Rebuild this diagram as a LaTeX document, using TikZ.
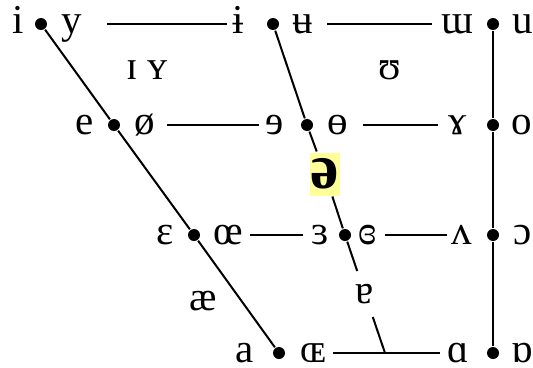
\documentclass[tikz,border=0pt]{standalone}
\usepackage{fontspec}
\setmainfont{Liberation Serif}
\usetikzlibrary{positioning}
\definecolor{hilite}{HTML}{FFFF99}

\begin{document}
\begin{tikzpicture}[x=1pt, y=-1pt, line width=2pt,
  every node/.style={font=\fontsize{41}{48}\selectfont},
  vow/.style={inner sep=0pt, text height=28pt, text depth=9pt},
  low/.style={inner sep=0pt, text height=23pt, text depth=4pt},
  dot/.style={circle, fill, inner sep=0pt, minimum size=12pt},
  gap/.style={vow, minimum width=20pt, minimum height=44pt},
  mid/.style={fill=hilite, inner sep=0pt, minimum width=30pt, minimum height=43pt, font=\fontsize{64}{70}\selectfont\bfseries}]
\useasboundingbox (0,0) rectangle (533,367);
\node[dot] (fr1) at (41,24) {};
\node[dot] (fr2) at (114,125) {};
\node[dot] (fr3) at (194,235) {};
\node[dot] (fr4) at (279,353) {};
\node[dot] (ce1) at (273,24) {};
\node[dot] (ce2) at (307,125) {};
\node[dot] (ce3) at (345,235) {};
\coordinate (ce4) at (385,353);
\node[dot] (bk1) at (493,24) {};
\node[dot] (bk2) at (493,125) {};
\node[dot] (bk3) at (493,235) {};
\node[dot] (bk4) at (493,353) {};
\node[vow] (i) at (18,24) {i};
\node[vow] (y) at (72,24) {y};
\node[vow] (ibar) at (238,24) {ɨ};
\node[vow] (ubar) at (303,24) {ʉ};
\node[vow] (wturn) at (457,24) {ɯ};
\node[vow] (u) at (523,24) {u};
\node[vow] (e) at (85,125) {e};
\node[vow] (oslash) at (145,125) {ø};
\node[vow] (revE) at (275,125) {ɘ};
\node[vow] (obar) at (338,125) {ɵ};
\node[vow] (ramshorn) at (458,125) {ɤ};
\node[vow] (o) at (522,125) {o};
\node[vow] (eps) at (165,235) {ɛ};
\node[vow] (oelig) at (228,235) {œ};
\node[vow] (revEps) at (320,235) {ɜ};
\node[vow] (closedRevEps) at (368,235) {ɞ};
\node[vow] (turnV) at (462,235) {ʌ};
\node[vow] (openO) at (523,235) {ɔ};
\node[low] (a) at (245,353) {a};
\node[low] (smallOE) at (313,353) {ɶ};
\node[low] (alpha) at (458,353) {ɑ};
\node[low] (turnAlpha) at (522,353) {ɒ};
\node[vow] (nearfront) at (147,70) {ɪ ʏ};
\node[vow] (nearback) at (390,70) {ʊ};
\node[vow] (ash) at (203,301) {æ};
\node[gap] (turnA) at (365,294) {ɐ};
\node[mid] (schwa) at (325,174) {ə};
\draw (fr1) -- (fr2) -- (fr3) -- (fr4);
\draw (bk1) -- (bk2) -- (bk3) -- (bk4);
\draw (ce1) -- (ce2) -- (schwa) -- (ce3) -- (turnA) -- (ce4);
\draw[shorten <=35pt, shorten >=11pt] (y.center) -- (ibar.center);
\draw[shorten <=24pt, shorten >=25pt] (ubar.center) -- (wturn.center);
\draw[shorten <=22pt, shorten >=16pt] (oslash.center) -- (revE.center);
\draw[shorten <=25pt, shorten >=20pt] (obar.center) -- (ramshorn.center);
\draw[shorten <=22pt, shorten >=17pt] (oelig.center) -- (revEps.center);
\draw[shorten <=17pt, shorten >=15pt] (closedRevEps.center) -- (turnV.center);
\draw[shorten <=20pt, shorten >=18pt] (smallOE.center) -- (alpha.center);
\end{tikzpicture}
\end{document}
